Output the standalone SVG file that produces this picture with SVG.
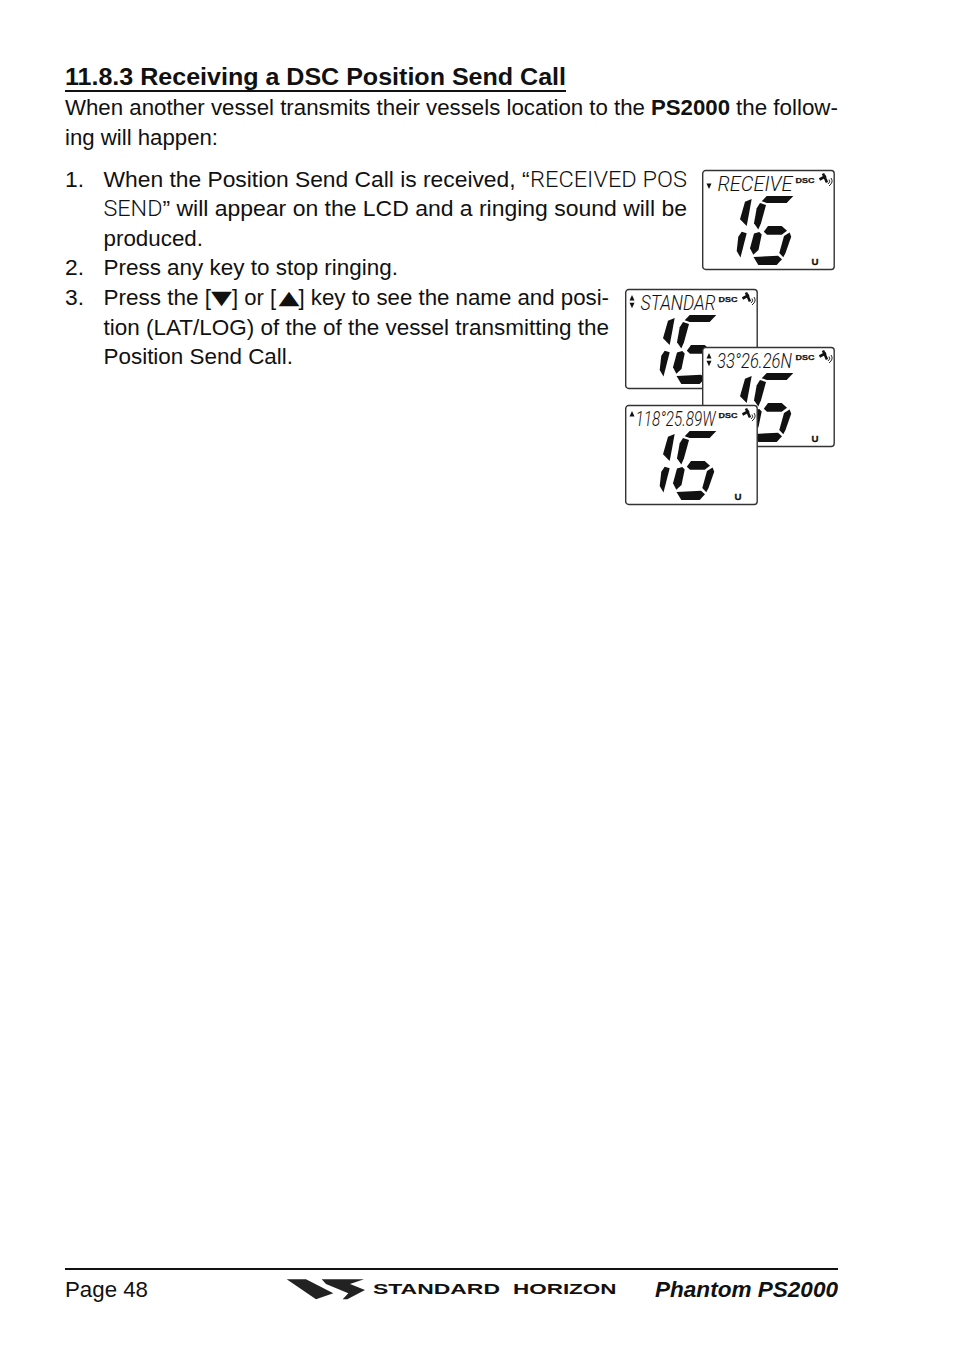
<svg xmlns="http://www.w3.org/2000/svg" xmlns:xlink="http://www.w3.org/1999/xlink" width="954" height="1352" viewBox="0 0 954 1352">
<style>
text{font-family:"Liberation Sans",Arial,sans-serif;fill:#111}
.b{font-size:22px}
.h{font-size:24.6px;font-weight:bold}
.thin{font-family:Roboto,"Liberation Sans",sans-serif;font-weight:300;font-size:22px}
.lcd{font-family:Roboto,"Liberation Sans",sans-serif;font-weight:300;font-size:20.5px;font-style:italic;fill:#111}
.dsc{font-size:7.6px;font-weight:bold;stroke:#111;stroke-width:.25}
.u{font-size:9.500px;font-weight:bold;stroke:#111;stroke-width:.3}
.tri{font-family:"DejaVu Sans",sans-serif;font-size:19px}
.panel{fill:#fff;stroke:#333;stroke-width:1.4}
.seg{fill:#111}
</style>
<defs>
<g id="lcdbase">
<rect class="panel" x="0.7" y="0.5" width="131.5" height="99" rx="3"/>
<g class="seg">
<polygon points="49.700,29 43,31.700 38,49.300 44.700,56"/>
<polygon points="39.700,61.700 44.700,63.300 38.500,87.500 34.700,81 36.300,66.700"/>
<polygon points="64.700,26 91.300,26 84.700,33 64.700,33 59.700,31.200"/>
<polygon points="58,33 64,35 59,53.300 56.300,59.500 52,53.300 54.700,38.300"/>
<polygon points="61.800,61.700 66,56 79.700,56 85,60.700 79.700,64.800 65,64.800"/>
<polygon points="57.300,62 59.700,64.500 56.500,80 51.300,84.800 48,78.300 52,63.500"/>
<polygon points="87.600,62.500 89.200,66.700 83.500,83 81.300,87.300 77.300,83 82,66"/>
<polygon points="51.500,87 76,85.800 80,89.300 74.700,95 56.300,95"/>
</g>
<text class="dsc" x="93.500" y="13" textLength="19" lengthAdjust="spacingAndGlyphs">DSC</text>
<g fill="none" stroke="#111">
<path d="M117.500,9.500 L124,6 M121,3.500 L125,12.500" stroke-width="2.600"/>
<path d="M127,9.500 Q129,12 126,14 M129,8 Q132,12 127,16" stroke-width="0.900"/>
</g>
<text class="u" x="109.500" y="95" textLength="7" lengthAdjust="spacingAndGlyphs">U</text>
</g>
<polygon id="up" points="0,-5.500 -2.500,0 2.500,0" fill="#111"/>
<polygon id="dn" points="0,5.500 -2.500,0 2.500,0" fill="#111"/>
</defs>

<g id="heading">
<text class="h" x="65" y="85" textLength="501" lengthAdjust="spacingAndGlyphs">11.8.3 Receiving a DSC Position Send Call</text>
<rect x="65" y="90" width="501" height="2" fill="#111"/>
</g>

<g id="intro">
<text class="b" x="65" y="115" textLength="580" lengthAdjust="spacingAndGlyphs">When another vessel transmits their vessels location to the</text>
<text class="b" x="651" y="115" font-weight="bold" textLength="79" lengthAdjust="spacingAndGlyphs">PS2000</text>
<text class="b" x="736" y="115" textLength="102" lengthAdjust="spacingAndGlyphs">the follow-</text>
<text class="b" x="65" y="145" textLength="153" lengthAdjust="spacingAndGlyphs">ing will happen:</text>
</g>

<g id="list">
<text class="b" x="65" y="186.500" textLength="19" lengthAdjust="spacingAndGlyphs">1.</text>
<text class="b" x="103.500" y="186.500" textLength="426" lengthAdjust="spacingAndGlyphs">When the Position Send Call is received, “</text>
<text class="thin" x="530" y="186.500" textLength="157" lengthAdjust="spacingAndGlyphs">RECEIVED POS</text>
<text class="thin" x="103.500" y="216" textLength="59" lengthAdjust="spacingAndGlyphs">SEND</text>
<text class="b" x="162.500" y="216" textLength="524.500" lengthAdjust="spacingAndGlyphs">” will appear on the LCD and a ringing sound will be</text>
<text class="b" x="103.500" y="246" textLength="99.500" lengthAdjust="spacingAndGlyphs">produced.</text>
<text class="b" x="65" y="275" textLength="19" lengthAdjust="spacingAndGlyphs">2.</text>
<text class="b" x="103.500" y="275" textLength="294.500" lengthAdjust="spacingAndGlyphs">Press any key to stop ringing.</text>
<text class="b" x="65" y="305" textLength="19" lengthAdjust="spacingAndGlyphs">3.</text>
<text class="b" x="103.500" y="305" textLength="107.500" lengthAdjust="spacingAndGlyphs">Press the [</text>
<text class="tri" x="211" y="304" textLength="21" lengthAdjust="spacingAndGlyphs">▼</text>
<text class="b" x="232" y="305" textLength="44" lengthAdjust="spacingAndGlyphs">] or [</text>
<text class="tri" x="278.500" y="304" textLength="21" lengthAdjust="spacingAndGlyphs">▲</text>
<text class="b" x="298.500" y="305" textLength="310.500" lengthAdjust="spacingAndGlyphs">] key to see the name and posi-</text>
<text class="b" x="103.500" y="335" textLength="505.500" lengthAdjust="spacingAndGlyphs">tion (LAT/LOG) of the of the vessel transmitting the</text>
<text class="b" x="103.500" y="364" textLength="189.500" lengthAdjust="spacingAndGlyphs">Position Send Call.</text>
</g>

<g id="lcd-receive" transform="translate(702,170)">
<use xlink:href="#lcdbase" href="#lcdbase"/>
<use xlink:href="#dn" href="#dn" x="7" y="13.500"/>
<text class="lcd" x="15.500" y="20.500" textLength="75" lengthAdjust="spacingAndGlyphs">RECEIVE</text>
</g>
<g id="lcd-name" transform="translate(625,289)">
<use xlink:href="#lcdbase" href="#lcdbase"/>
<use xlink:href="#up" href="#up" x="7" y="11.500"/>
<use xlink:href="#dn" href="#dn" x="7" y="13.700"/>
<text class="lcd" x="15.500" y="20.500" textLength="75" lengthAdjust="spacingAndGlyphs">STANDAR</text>
</g>
<g id="lcd-lat" transform="translate(702,347)">
<use xlink:href="#lcdbase" href="#lcdbase"/>
<use xlink:href="#up" href="#up" x="7" y="11.500"/>
<use xlink:href="#dn" href="#dn" x="7" y="13.700"/>
<text class="lcd" x="15" y="20.500" textLength="75" lengthAdjust="spacingAndGlyphs">33°26.26N</text>
</g>
<g id="lcd-lon" transform="translate(625,405)">
<use xlink:href="#lcdbase" href="#lcdbase"/>
<use xlink:href="#up" href="#up" x="7" y="11.500"/>
<text class="lcd" x="10.500" y="20.500" textLength="80" lengthAdjust="spacingAndGlyphs">118°25.89W</text>
</g>

<g id="footer">
<rect x="65" y="1268" width="773" height="2" fill="#111"/>
<text class="b" x="65" y="1297" textLength="83" lengthAdjust="spacingAndGlyphs">Page 48</text>
<polygon points="286.700,1279.300 306,1279.300 333.300,1293.300 316,1299.300" fill="#222"/>
<polygon points="321.700,1279.300 364,1279.300 350,1284 365,1290 347.300,1299.300 342.700,1299.300 348.300,1293.300 326,1284" fill="#222"/>
<text x="373" y="1294.300" font-size="15.400" font-weight="bold" fill="#222" textLength="127" lengthAdjust="spacingAndGlyphs">STANDARD</text>
<text x="513" y="1294.300" font-size="15.400" font-weight="bold" fill="#222" textLength="103.500" lengthAdjust="spacingAndGlyphs">HORIZON</text>
<text class="b" x="655" y="1297" font-weight="bold" font-style="italic" textLength="183" lengthAdjust="spacingAndGlyphs">Phantom PS2000</text>
</g>
</svg>
